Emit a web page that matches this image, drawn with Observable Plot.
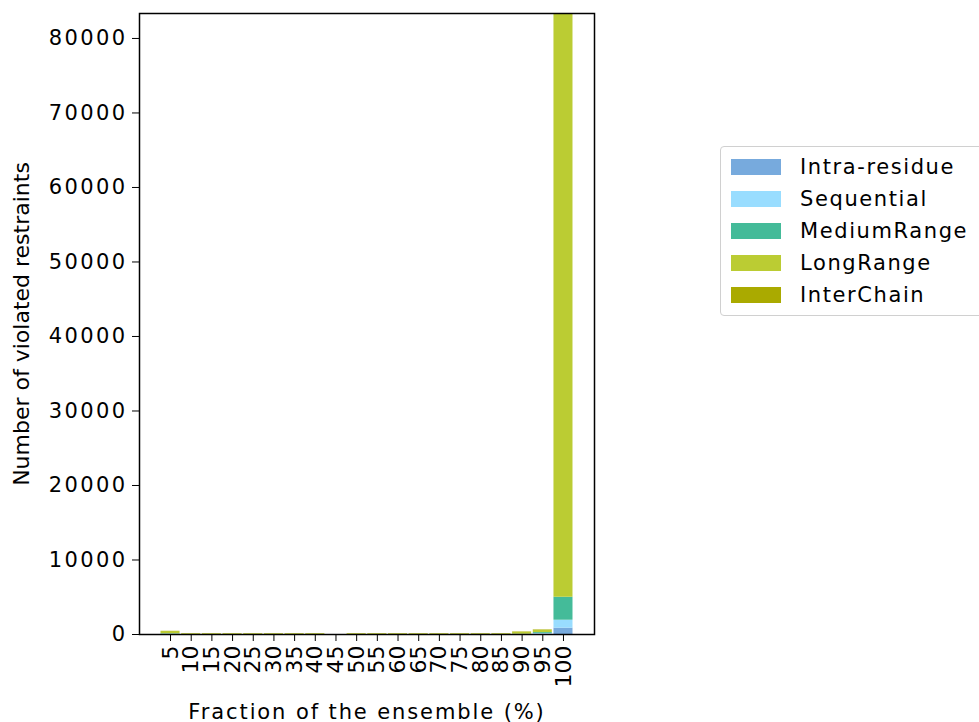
<!DOCTYPE html>
<html>
<head>
<meta charset="utf-8">
<script src="https://cdn.jsdelivr.net/npm/d3@7"></script>
<script src="https://cdn.jsdelivr.net/npm/@observablehq/plot@0.6"></script>
<style>
  html, body { margin: 0; padding: 0; background: #fff; overflow: hidden; }
  #wrap { position: relative; width: 979px; height: 722px; font-family: "DejaVu Sans", sans-serif; }
  #legend { position: absolute; left: 720px; top: 146px; width: 280px; height: 170px;
            border: 1.5px solid #d0d0d0; border-radius: 4px; box-sizing: border-box; background: #fff; }
  .row { position: absolute; left: 10px; height: 32px; display: flex; align-items: center; }
  .sw { width: 50px; height: 16px; margin-right: 19px; }
  .lab { font-size: 21px; letter-spacing: 1.6px; color: #000; white-space: nowrap; }
</style>
</head>
<body>
<div id="wrap"><div id="chart"></div><div id="legend"></div></div>
<script>
// ---- data ----
const fractions = ["5","10","15","20","25","30","35","40","45","50","55","60","65","70","75","80","85","90","95","100"];
const types = ["Intra-residue", "Sequential", "MediumRange", "LongRange", "InterChain"];
const colors = ["#77aadd", "#99ddff", "#44bb99", "#bbcc33", "#aaaa00"];
const intraResidue = [20, 0, 0, 0, 0, 0, 0, 0, 0, 0, 0, 0, 0, 0, 0, 0, 0, 0, 60, 850];
const sequential   = [30, 0, 0, 0, 0, 0, 0, 0, 0, 0, 0, 0, 0, 0, 0, 0, 0, 10, 80, 1070];
const mediumRange  = [50, 0, 0, 0, 0, 0, 0, 0, 0, 0, 0, 0, 0, 0, 0, 0, 0, 30, 120, 3080];
const longRange    = [300, 90, 90, 90, 90, 90, 90, 90, 0, 90, 90, 90, 90, 90, 90, 90, 90, 280, 320, 78350];
const interChain   = [30, 40, 40, 40, 40, 40, 40, 40, 0, 40, 40, 40, 40, 40, 40, 40, 40, 40, 50, 0];
const yTicks = [0, 10000, 20000, 30000, 40000, 50000, 60000, 70000, 80000];

const series = [intraResidue, sequential, mediumRange, longRange, interChain];
const rows = [];
fractions.forEach((f, i) => {
  types.forEach((t, k) => rows.push({fraction: f, type: t, count: series[k][i]}));
});
const yMax = d3.max(fractions.map((f, i) => d3.sum(series, s => s[i])));

const chart = Plot.plot({
  width: 979,
  height: 722,
  marginLeft: 139,
  marginRight: 385,
  marginTop: 13,
  marginBottom: 88,
  style: {fontFamily: "DejaVu Sans, sans-serif", fontSize: "21px", color: "#000", background: "#fff"},
  x: {domain: fractions, paddingInner: 0.08, paddingOuter: 1.04, align: 0.5, round: false},
  y: {domain: [0, yMax]},
  color: {domain: types, range: colors},
  marks: [
    Plot.barY(rows, {x: "fraction", y: "count", fill: "type", order: types}),
    Plot.axisY({ticks: yTicks, tickFormat: d => String(d), tickSize: 7, tickPadding: 5,
                label: "Number of violated restraints", labelAnchor: "center", labelArrow: "none", labelOffset: 126}),
    Plot.axisX({tickSize: 7, tickPadding: 4, tickRotate: -90,
                label: "Fraction of the ensemble (%)", labelAnchor: "center", labelArrow: "none", labelOffset: 84}),
    Plot.frame({stroke: "#000", strokeWidth: 1.5})
  ]
});
const setText = (sel, size, spacing) => chart.querySelectorAll(sel).forEach(t => {
  if (size) t.setAttribute("font-size", size);
  t.setAttribute("letter-spacing", spacing);
});
setText('g[aria-label="y-axis tick label"] text', null, "2.4");
setText('g[aria-label="x-axis tick label"] text', "22", "0");
setText('g[aria-label="y-axis label"] text', "22", "0");
setText('g[aria-label="x-axis label"] text', null, "1.9");
document.getElementById("chart").appendChild(chart);

const legend = document.getElementById("legend");
types.forEach((t, k) => {
  const row = document.createElement("div");
  row.className = "row";
  row.style.top = (4 + k * 32) + "px";
  row.innerHTML = `<div class="sw" style="background:${colors[k]}"></div><div class="lab">${t}</div>`;
  legend.appendChild(row);
});
</script>
</body>
</html>
